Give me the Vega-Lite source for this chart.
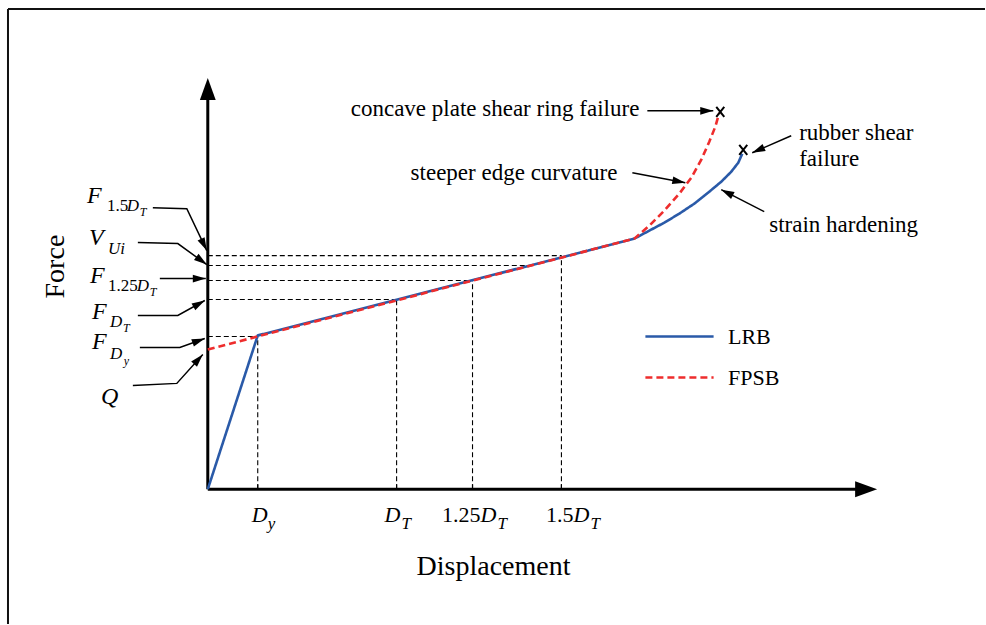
{
  "$schema": "https://vega.github.io/schema/vega-lite/v6.json",
  "width": 986,
  "height": 625,
  "autosize": {"type": "fit", "contains": "padding"},
  "padding": 0,
  "background": "white",
  "config": {"view": {"stroke": null}},
  "datasets": {
    "frame": [
      {"x": -200, "y": 481, "x2": 778, "y2": 481},
      {"x": -200, "y": 481, "x2": -200, "y2": -135}
    ],
    "axes": [
      {"x": 0, "y": 0, "x2": 0, "y2": 400},
      {"x": 0, "y": 0, "x2": 660, "y2": 0}
    ],
    "axisHeads": [
      {"x": 0, "y": 412, "dir": 0},
      {"x": 670, "y": 0, "dir": 90}
    ],
    "guides": [
      {"x": 0, "y": 153, "x2": 50, "y2": 153},
      {"x": 0, "y": 190, "x2": 189, "y2": 190},
      {"x": 0, "y": 209, "x2": 265, "y2": 209},
      {"x": 0, "y": 224, "x2": 325, "y2": 224},
      {"x": 0, "y": 234, "x2": 354, "y2": 234},
      {"x": 50, "y": 0, "x2": 50, "y2": 153},
      {"x": 189, "y": 0, "x2": 189, "y2": 190},
      {"x": 265, "y": 0, "x2": 265, "y2": 209},
      {"x": 354, "y": 0, "x2": 354, "y2": 234}
    ],
    "ticks": [
      {"x": 50, "y": 0, "x2": 50, "y2": 5},
      {"x": 189, "y": 0, "x2": 189, "y2": 5},
      {"x": 265, "y": 0, "x2": 265, "y2": 5},
      {"x": 354, "y": 0, "x2": 354, "y2": 5}
    ],
    "curves": [
      {"series": "LRB", "x": 0, "y": 0},
      {"series": "LRB", "x": 50, "y": 154},
      {"series": "LRB", "x": 427, "y": 251},
      {"series": "LRB", "x": 442, "y": 259},
      {"series": "LRB", "x": 457, "y": 267},
      {"series": "LRB", "x": 472, "y": 276},
      {"series": "LRB", "x": 487, "y": 286},
      {"series": "LRB", "x": 502, "y": 298},
      {"series": "LRB", "x": 514, "y": 308},
      {"series": "LRB", "x": 524, "y": 318},
      {"series": "LRB", "x": 531, "y": 327},
      {"series": "LRB", "x": 535, "y": 336},
      {"series": "FPSB", "x": 0, "y": 140},
      {"series": "FPSB", "x": 427, "y": 251},
      {"series": "FPSB", "x": 442, "y": 264},
      {"series": "FPSB", "x": 457, "y": 279},
      {"series": "FPSB", "x": 472, "y": 296},
      {"series": "FPSB", "x": 484, "y": 312},
      {"series": "FPSB", "x": 494, "y": 330},
      {"series": "FPSB", "x": 502, "y": 348},
      {"series": "FPSB", "x": 508, "y": 363},
      {"series": "FPSB", "x": 512, "y": 377}
    ],
    "failures": [
      {"x": 513, "y": 378},
      {"x": 536, "y": 340}
    ],
    "arrows": [
      {"id": "a1", "ord": 1, "x": -55, "y": 282},
      {"id": "a1", "ord": 2, "x": -21, "y": 281},
      {"id": "a1", "ord": 3, "x": -1, "y": 239},
      {"id": "a2", "ord": 1, "x": -70, "y": 247},
      {"id": "a2", "ord": 2, "x": -30, "y": 246},
      {"id": "a2", "ord": 3, "x": -1, "y": 225},
      {"id": "a3", "ord": 1, "x": -48, "y": 211},
      {"id": "a3", "ord": 2, "x": -2, "y": 211},
      {"id": "a4", "ord": 1, "x": -70, "y": 174},
      {"id": "a4", "ord": 2, "x": -30, "y": 174},
      {"id": "a4", "ord": 3, "x": -3, "y": 189},
      {"id": "a5", "ord": 1, "x": -68, "y": 142},
      {"id": "a5", "ord": 2, "x": -28, "y": 142},
      {"id": "a5", "ord": 3, "x": -3, "y": 151},
      {"id": "a6", "ord": 1, "x": -75, "y": 104},
      {"id": "a6", "ord": 2, "x": -31, "y": 106},
      {"id": "a6", "ord": 3, "x": -5, "y": 135},
      {"id": "a7", "ord": 1, "x": 440, "y": 379},
      {"id": "a7", "ord": 2, "x": 506, "y": 379},
      {"id": "a8", "ord": 1, "x": 425, "y": 317},
      {"id": "a8", "ord": 2, "x": 478, "y": 307},
      {"id": "a9", "ord": 1, "x": 584, "y": 354},
      {"id": "a9", "ord": 2, "x": 545, "y": 337},
      {"id": "a10", "ord": 1, "x": 557, "y": 278},
      {"id": "a10", "ord": 2, "x": 514, "y": 300}
    ],
    "heads": [
      {"x": -1, "y": 239, "dir": 154},
      {"x": -1, "y": 225, "dir": 126},
      {"x": -2, "y": 211, "dir": 90},
      {"x": -3, "y": 189, "dir": 61},
      {"x": -3, "y": 151, "dir": 70},
      {"x": -5, "y": 135, "dir": 42},
      {"x": 506, "y": 379, "dir": 90},
      {"x": 478, "y": 307, "dir": 101},
      {"x": 545, "y": 337, "dir": -114},
      {"x": 514, "y": 300, "dir": -63}
    ],
    "symL": [
      {"t": "F", "x": -121, "y": 287},
      {"t": "V", "x": -119, "y": 245},
      {"t": "F", "x": -118, "y": 207},
      {"t": "F", "x": -116, "y": 170},
      {"t": "F", "x": -116, "y": 140},
      {"t": "Q", "x": -107, "y": 85}
    ],
    "symX": [
      {"t": "D", "x": 44, "y": -33},
      {"t": "D", "x": 177, "y": -33},
      {"t": "D", "x": 273, "y": -33},
      {"t": "D", "x": 366, "y": -33}
    ],
    "num": [
      {"t": "1.25", "x": 273, "y": -33},
      {"t": "1.5", "x": 366, "y": -33}
    ],
    "sub": [
      {"t": "D", "x": -81, "y": 279},
      {"t": "Ui", "x": -100, "y": 236},
      {"t": "D", "x": -71, "y": 199},
      {"t": "D", "x": -98, "y": 162},
      {"t": "D", "x": -98, "y": 130}
    ],
    "subnum": [
      {"t": "1.5", "x": -101, "y": 279},
      {"t": "1.25", "x": -100, "y": 199}
    ],
    "subsub": [
      {"t": "T", "x": -68, "y": 274},
      {"t": "T", "x": -58, "y": 194},
      {"t": "T", "x": -85, "y": 157},
      {"t": "y", "x": -84, "y": 124}
    ],
    "axsub": [
      {"t": "y", "x": 60, "y": -40},
      {"t": "T", "x": 194, "y": -40},
      {"t": "T", "x": 290, "y": -40},
      {"t": "T", "x": 383, "y": -40}
    ],
    "notes": [
      {"t": "steeper edge curvature", "x": 203, "y": 310},
      {"t": "rubber shear", "x": 592, "y": 350},
      {"t": "failure", "x": 592, "y": 324},
      {"t": "strain hardening", "x": 562, "y": 258}
    ],
    "notesR": [
      {"t": "concave plate shear ring failure", "x": 432, "y": 374}
    ],
    "titleX": [{"t": "Displacement", "x": 286, "y": -86}],
    "titleY": [{"t": "Force", "x": -144, "y": 223}]
  },
  "encoding": {
    "x": {"field": "x", "type": "quantitative", "scale": {"domain": [-208, 778], "nice": false, "zero": false}, "axis": null},
    "y": {"field": "y", "type": "quantitative", "scale": {"domain": [-135, 490], "nice": false, "zero": false}, "axis": null}
  },
  "layer": [
    {
      "data": {"name": "frame"},
      "mark": {"type": "rule", "color": "#111111", "strokeWidth": 2},
      "encoding": {"x2": {"field": "x2"}, "y2": {"field": "y2"}}
    },
    {
      "data": {"name": "guides"},
      "mark": {"type": "rule", "color": "black", "strokeWidth": 1.1, "strokeDash": [5, 3]},
      "encoding": {"x2": {"field": "x2"}, "y2": {"field": "y2"}}
    },
    {
      "data": {"name": "ticks"},
      "mark": {"type": "rule", "color": "black", "strokeWidth": 1.2},
      "encoding": {"x2": {"field": "x2"}, "y2": {"field": "y2"}}
    },
    {
      "data": {"name": "axes"},
      "mark": {"type": "rule", "color": "black", "strokeWidth": 3},
      "encoding": {"x2": {"field": "x2"}, "y2": {"field": "y2"}}
    },
    {
      "data": {"name": "axisHeads"},
      "mark": {"type": "point", "shape": "M0,0L-0.36,1L0.36,1Z", "filled": true, "color": "black", "size": 1936, "opacity": 1, "strokeWidth": 0},
      "encoding": {"angle": {"field": "dir", "type": "quantitative", "scale": null}}
    },
    {
      "data": {"name": "curves"},
      "mark": {"type": "line", "strokeWidth": 2.6},
      "encoding": {
        "color": {"field": "series", "type": "nominal", "scale": {"domain": ["LRB", "FPSB"], "range": ["#2a5aa8", "#ee2d2d"]},
          "legend": {"orient": "none", "legendX": 667, "legendY": 324, "title": null, "symbolType": "M-3.1,0L3.1,0", "symbolSize": 484, "symbolStrokeWidth": 2.6, "labelFont": "Liberation Serif", "labelFontSize": 22, "labelColor": "black", "labelOffset": 36, "rowPadding": 17, "padding": 0}},
        "strokeDash": {"field": "series", "type": "nominal", "scale": {"domain": ["LRB", "FPSB"], "range": [[1, 0], [7, 4]]},
          "legend": {"orient": "none", "legendX": 667, "legendY": 324, "title": null, "symbolType": "M-3.1,0L3.1,0", "symbolSize": 484, "symbolStrokeWidth": 2.6, "labelFont": "Liberation Serif", "labelFontSize": 22, "labelColor": "black", "labelOffset": 36, "rowPadding": 17, "padding": 0}},
        "order": {"field": "x", "type": "quantitative"}
      }
    },
    {
      "data": {"name": "failures"},
      "mark": {"type": "point", "shape": "M-0.8,-1L0.8,1M0.8,-1L-0.8,1", "filled": false, "color": "black", "strokeWidth": 2, "size": 100, "opacity": 1}
    },
    {
      "data": {"name": "arrows"},
      "mark": {"type": "line", "color": "black", "strokeWidth": 1.5},
      "encoding": {"detail": {"field": "id"}, "order": {"field": "ord", "type": "quantitative"}}
    },
    {
      "data": {"name": "heads"},
      "mark": {"type": "point", "shape": "M0,0L-0.3,1L0.3,1Z", "filled": true, "color": "black", "size": 676, "opacity": 1, "strokeWidth": 0},
      "encoding": {"angle": {"field": "dir", "type": "quantitative", "scale": null}}
    },
    {
      "data": {"name": "symL"},
      "mark": {"type": "text", "font": "Liberation Serif", "fontStyle": "italic", "fontSize": 24, "align": "left", "baseline": "alphabetic", "color": "black"},
      "encoding": {"text": {"field": "t"}}
    },
    {
      "data": {"name": "symX"},
      "mark": {"type": "text", "font": "Liberation Serif", "fontStyle": "italic", "fontSize": 22, "align": "left", "baseline": "alphabetic", "color": "black"},
      "encoding": {"text": {"field": "t"}}
    },
    {
      "data": {"name": "num"},
      "mark": {"type": "text", "font": "Liberation Serif", "fontSize": 22, "align": "right", "baseline": "alphabetic", "color": "black"},
      "encoding": {"text": {"field": "t"}}
    },
    {
      "data": {"name": "sub"},
      "mark": {"type": "text", "font": "Liberation Serif", "fontStyle": "italic", "fontSize": 17, "align": "left", "baseline": "alphabetic", "color": "black"},
      "encoding": {"text": {"field": "t"}}
    },
    {
      "data": {"name": "subnum"},
      "mark": {"type": "text", "font": "Liberation Serif", "fontSize": 17, "align": "left", "baseline": "alphabetic", "color": "black"},
      "encoding": {"text": {"field": "t"}}
    },
    {
      "data": {"name": "subsub"},
      "mark": {"type": "text", "font": "Liberation Serif", "fontStyle": "italic", "fontSize": 12, "align": "left", "baseline": "alphabetic", "color": "black"},
      "encoding": {"text": {"field": "t"}}
    },
    {
      "data": {"name": "axsub"},
      "mark": {"type": "text", "font": "Liberation Serif", "fontStyle": "italic", "fontSize": 17, "align": "left", "baseline": "alphabetic", "color": "black"},
      "encoding": {"text": {"field": "t"}}
    },
    {
      "data": {"name": "notes"},
      "mark": {"type": "text", "font": "Liberation Serif", "fontSize": 23, "align": "left", "baseline": "alphabetic", "color": "black"},
      "encoding": {"text": {"field": "t"}}
    },
    {
      "data": {"name": "notesR"},
      "mark": {"type": "text", "font": "Liberation Serif", "fontSize": 23, "align": "right", "baseline": "alphabetic", "color": "black"},
      "encoding": {"text": {"field": "t"}}
    },
    {
      "data": {"name": "titleX"},
      "mark": {"type": "text", "font": "Liberation Serif", "fontSize": 28, "align": "center", "baseline": "alphabetic", "color": "black"},
      "encoding": {"text": {"field": "t"}}
    },
    {
      "data": {"name": "titleY"},
      "mark": {"type": "text", "font": "Liberation Serif", "fontSize": 28, "align": "center", "baseline": "alphabetic", "angle": 270, "color": "black"},
      "encoding": {"text": {"field": "t"}}
    }
  ]
}
